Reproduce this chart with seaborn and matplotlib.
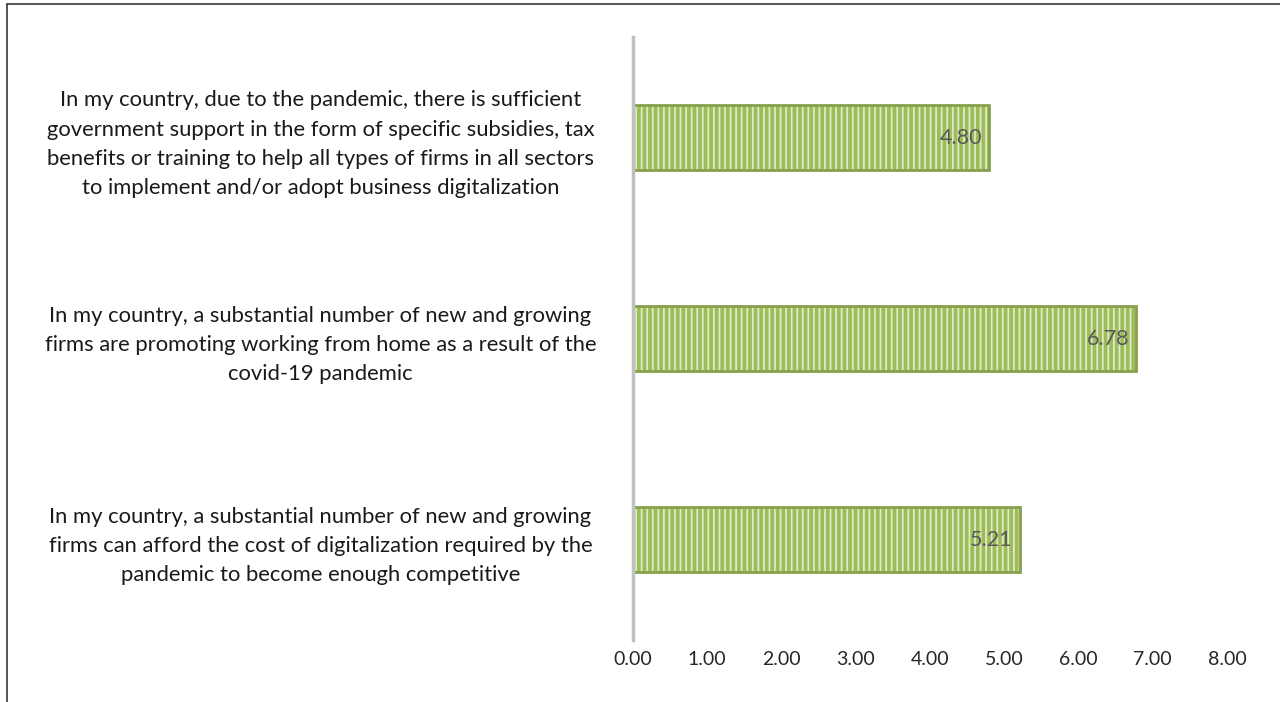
import pandas as pd
import numpy as np
import seaborn as sns
import matplotlib.pyplot as plt
from matplotlib.lines import Line2D

statements = [
    "In my country, due to the pandemic, there is sufficient\ngovernment support in the form of specific subsidies, tax\nbenefits or training to help all types of firms in all sectors\nto implement and/or adopt business digitalization",
    "In my country, a substantial number of new and growing\nfirms are promoting working from home as a result of the\ncovid-19 pandemic",
    "In my country, a substantial number of new and growing\nfirms can afford the cost of digitalization required by the\npandemic to become enough competitive",
]
scores = [4.80, 6.78, 5.21]
xticks = [0, 1, 2, 3, 4, 5, 6, 7, 8]

df = pd.DataFrame({"statement": statements, "score": scores})

sns.set_style("white")
plt.rcParams['font.family'] = ['Lato', 'DejaVu Sans']
plt.rcParams['hatch.linewidth'] = 1.3

fig = plt.figure(figsize=(12.8, 7.02), dpi=100)
ax = fig.add_axes([633/1280, 1-640/702, 594/1280, 603/702])

sns.barplot(data=df, x="score", y="statement", orient="h", width=0.32,
            color="#9dbd5a", saturation=1, ax=ax)

# striped fill like the excel texture, then a darker outline
for p in ax.patches:
    p.set_hatch("|||")
    p.set_edgecolor("#dfeac6")
    p.set_linewidth(0)
    x0, y0 = p.get_x(), p.get_y()
    ax.add_patch(plt.Rectangle((x0, y0), p.get_width(), p.get_height(),
                               fill=False, edgecolor="#87a04e", linewidth=2))

for i, v in enumerate(scores):
    ax.text(v - 0.1, i, f"{v:.2f}", ha="right", va="center",
            fontsize=15.5, color="#595959")

ax.set_xlim(0, 8)
ax.set_ylim(2.5, -0.5)
ax.set_xticks(xticks)
ax.set_xticklabels([f"{t:.2f}" for t in xticks], fontsize=14, color="#262626")
ax.tick_params(axis="x", length=0, pad=8)
ax.tick_params(axis="y", length=0, pad=225)
for lab in ax.get_yticklabels():
    lab.set_ha("center")
    lab.set_multialignment("center")
    lab.set_fontsize(15.8)
    lab.set_color("#1a1a1a")
    lab.set_linespacing(1.58)
ax.set_xlabel("")
ax.set_ylabel("")
for s in ["top", "right", "bottom"]:
    ax.spines[s].set_visible(False)
ax.spines["left"].set_color("#c0c0c0")
ax.spines["left"].set_linewidth(2.5)

# outer frame
fig.add_artist(Line2D([7/1280, 7/1280], [0, 1-4/702], color="#3a3a3a", linewidth=1.2))
fig.add_artist(Line2D([7/1280, 1], [1-4/702, 1-4/702], color="#3a3a3a", linewidth=1.2))

fig.savefig("out.png", dpi=100)
